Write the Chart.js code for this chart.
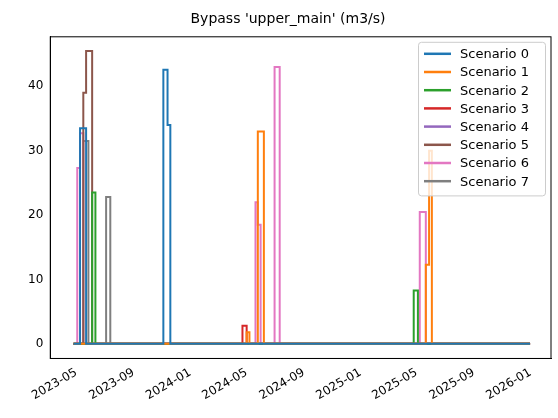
<!DOCTYPE html>
<html>
<head>
<meta charset="utf-8">
<script src="https://cdn.jsdelivr.net/npm/chart.js@4"></script>
<style>
  html, body { margin: 0; padding: 0; background: #fff; }
  #wrap { width: 558px; height: 418px; }
</style>
</head>
<body>
<div id="wrap"><canvas id="bypassChart"></canvas></div>
<script>
// Datos: cada escenario es una lista de [fecha, valor]; el valor se mantiene hasta el siguiente punto
const startDate = '2023-04-25';
const endDate = '2025-12-31';
const scenarioNames = ['Scenario 0', 'Scenario 1', 'Scenario 2', 'Scenario 3', 'Scenario 4', 'Scenario 5', 'Scenario 6', 'Scenario 7'];
const scenarioColors = ['#1f77b4', '#ff7f0e', '#2ca02c', '#d62728', '#9467bd', '#8c564b', '#e377c2', '#7f7f7f'];
const scenario0 = [['2023-05-09', 33.5], ['2023-05-22', 0], ['2023-11-04', 42.6], ['2023-11-13', 34], ['2023-11-19', 0]];
const scenario1 = [['2024-05-01', 1.8], ['2024-05-07', 0], ['2024-05-25', 33], ['2024-06-07', 0], ['2025-05-21', 12.3], ['2025-05-28', 30], ['2025-06-03', 0]];
const scenario2 = [['2023-06-04', 23.5], ['2023-06-11', 0], ['2025-04-25', 8.3], ['2025-05-04', 0]];
const scenario3 = [['2024-04-22', 2.8], ['2024-05-01', 0]];
const scenario4 = [];
const scenario5 = [['2023-05-16', 39], ['2023-05-22', 45.5], ['2023-06-04', 0]];
const scenario6 = [['2023-05-03', 27.3], ['2023-05-09', 32.7], ['2023-05-16', 0], ['2024-05-20', 22], ['2024-05-25', 18.5], ['2024-05-31', 0], ['2024-06-30', 43], ['2024-07-11', 0], ['2025-05-08', 20.5], ['2025-05-21', 0]];
const scenario7 = [['2023-05-16', 31.5], ['2023-05-27', 0], ['2023-07-04', 22.8], ['2023-07-13', 0]];
const allScenarios = [scenario0, scenario1, scenario2, scenario3, scenario4, scenario5, scenario6, scenario7];
const yTicks = [0, 10, 20, 30, 40];
const monthTicks = ['2023-05', '2023-09', '2024-01', '2024-05', '2024-09', '2025-01', '2025-05', '2025-09', '2026-01'];

const ts = s => Date.parse(s + (s.length === 7 ? '-01' : '') + 'T00:00:00Z');

function buildPoints(changes) {
  const pts = [{ x: ts(startDate), y: 0 }];
  changes.forEach(([d, v]) => pts.push({ x: ts(d), y: v }));
  pts.push({ x: ts(endDate), y: 0 });
  return pts;
}

// Leyenda con marco, dibujada dentro del área del gráfico
const boxLegend = {
  id: 'boxLegend',
  afterDraw(chart) {
    const ctx = chart.ctx;
    const area = chart.chartArea;
    const rowH = 18.2, w = 127, h = rowH * 8 + 8;
    const x0 = area.right - w - 6, y0 = area.top + 5;
    ctx.save();
    ctx.fillStyle = 'rgba(255,255,255,0.8)';
    ctx.strokeStyle = '#cccccc';
    ctx.lineWidth = 1;
    ctx.beginPath();
    ctx.roundRect(x0 + 0.5, y0 + 0.5, w, h, 3);
    ctx.fill(); ctx.stroke();
    ctx.font = '13px "DejaVu Sans"';
    ctx.textBaseline = 'middle';
    chart.data.datasets.forEach((ds, i) => {
      const cy = y0 + 12 + i * rowH;
      ctx.strokeStyle = ds.borderColor;
      ctx.lineWidth = 2.5;
      ctx.beginPath(); ctx.moveTo(x0 + 6, cy); ctx.lineTo(x0 + 33, cy); ctx.stroke();
      ctx.fillStyle = '#000';
      ctx.fillText(ds.label, x0 + 42, cy + 1);
    });
    ctx.restore();
  }
};

new Chart(document.getElementById('bypassChart'), {
  type: 'line',
  data: {
    datasets: allScenarios.map((s, i) => ({
      label: scenarioNames[i],
      data: buildPoints(s),
      borderColor: scenarioColors[i],
      backgroundColor: scenarioColors[i],
      borderWidth: 2,
      stepped: 'before',
      pointRadius: 0,
      fill: false
    }))
  },
  options: {
    responsive: true,
    maintainAspectRatio: false,
    animation: false,
    layout: { padding: { left: 25, right: 7, top: 3, bottom: 12 } },
    plugins: {
      legend: { display: false },
      tooltip: { enabled: false },
      title: {
        display: true,
        text: "Bypass 'upper_main' (m3/s)",
        color: '#000',
        font: { family: 'DejaVu Sans', size: 14, weight: 'normal' },
        padding: { top: 8, bottom: 9 }
      }
    },
    scales: {
      x: {
        type: 'linear',
        min: ts('2023-03-06'),
        max: ts('2026-02-14'),
        grid: { display: false, drawTicks: true, tickLength: 4, tickColor: '#000' },
        border: { color: '#000' },
        afterBuildTicks: axis => { axis.ticks = monthTicks.map(m => ({ value: ts(m) })); },
        ticks: {
          maxRotation: 30, minRotation: 30,
          color: '#000',
          font: { family: 'DejaVu Sans', size: 12 },
          callback: v => { const d = new Date(v); return d.getUTCFullYear() + '-' + String(d.getUTCMonth() + 1).padStart(2, '0'); }
        }
      },
      y: {
        min: -2.27,
        max: 47.7,
        grid: { display: false, drawTicks: true, tickLength: 4, tickColor: '#000' },
        border: { color: '#000' },
        afterBuildTicks: axis => { axis.ticks = yTicks.map(v => ({ value: v })); },
        ticks: { color: '#000', font: { family: 'DejaVu Sans', size: 12 } }
      }
    }
  },
  plugins: [boxLegend, {
    id: 'frame',
    afterDatasetsDraw(chart) {
      const { ctx, chartArea: a } = chart;
      ctx.save();
      ctx.strokeStyle = '#000'; ctx.lineWidth = 1;
      ctx.strokeRect(a.left, a.top, a.right - a.left, a.bottom - a.top);
      ctx.restore();
    }
  }]
});
</script>
</body>
</html>
